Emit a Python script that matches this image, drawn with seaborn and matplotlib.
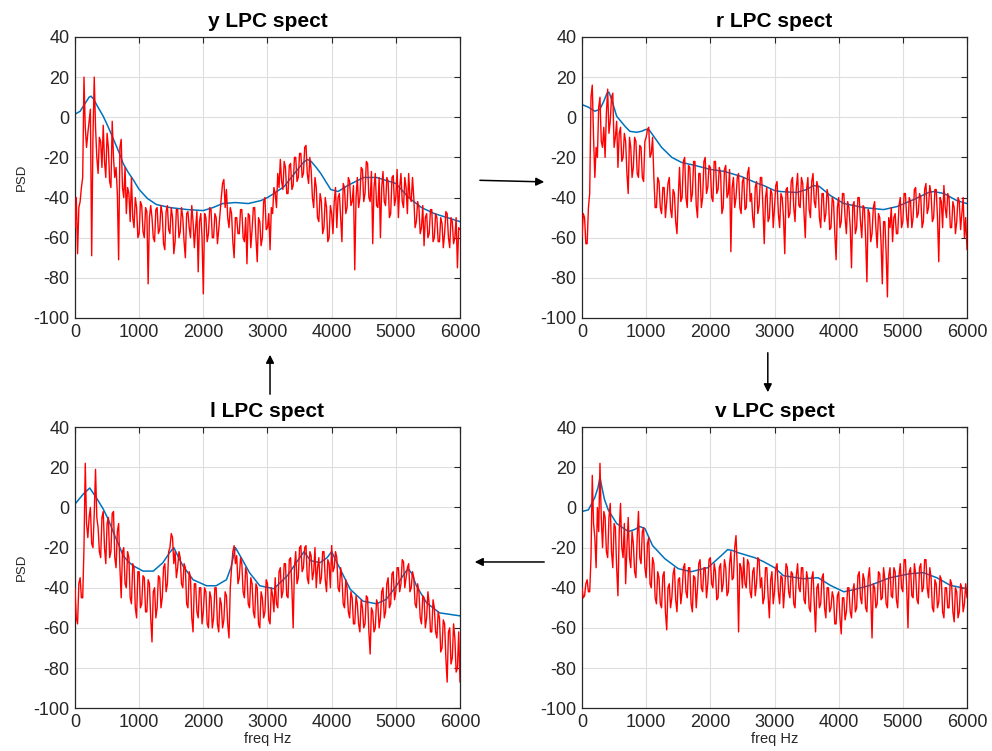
import numpy as np
import pandas as pd
import matplotlib
matplotlib.use("Agg")
import matplotlib.pyplot as plt
import seaborn as sns

# Periodogram frequency bins (Hz), 20 Hz spacing
freq_hz = np.arange(0, 6001, 20)

# Periodogram PSD (dB) per phoneme, one row per 400 Hz
psd_y = [
    -55, -40, -68, -45, -42, -35, -30, 20, -5, -15, -8, -2, 4, -69, -10, 20, -5, -20, -28, -10,
    -12, -25, -4, -22, -30, -8, -15, -32, -35, -2, -20, -30, -25, -38, -71, -15, -11, -35, -40, -25,
    -48, -35, -38, -52, -30, -50, -55, -40, -45, -60, -58, -42, -44, -57, -60, -45, -47, -83, -50, -44,
    -50, -60, -62, -46, -45, -58, -56, -44, -48, -63, -66, -47, -44, -56, -58, -45, -50, -68, -62, -46,
    -46, -60, -57, -45, -50, -62, -70, -48, -47, -55, -60, -44, -52, -65, -55, -47, -77, -52, -48, -60,
    -88, -48, -50, -62, -58, -45, -46, -60, -60, -48, -50, -63, -56, -48, -40, -33, -31, -45, -36, -50,
    -55, -45, -48, -62, -70, -50, -50, -58, -58, -46, -46, -60, -62, -50, -73, -48, -49, -65, -56, -45,
    -45, -60, -72, -50, -52, -64, -60, -42, -40, -56, -55, -48, -66, -45, -48, -35, -38, -45, -28, -35,
    -21, -32, -36, -22, -25, -38, -38, -24, -23, -36, -34, -20, -20, -32, -30, -18, -18, -30, -28, -15,
    -14, -28, -33, -20, -26, -40, -45, -30, -35, -50, -52, -38, -42, -58, -55, -40, -45, -62, -60, -44,
    -48, -58, -42, -35, -55, -40, -38, -50, -62, -33, -35, -48, -45, -30, -32, -44, -42, -34, -76, -40,
    -30, -45, -40, -25, -26, -42, -38, -22, -23, -40, -42, -27, -63, -35, -28, -44, -45, -30, -60, -35,
    -27, -42, -44, -30, -32, -50, -48, -30, -29, -44, -40, -26, -50, -35, -28, -42, -45, -30, -35, -48,
    -28, -40, -42, -30, -40, -55, -52, -42, -45, -58, -55, -44, -64, -50, -48, -60, -58, -46, -46, -62,
    -60, -48, -50, -62, -62, -50, -53, -65, -58, -47, -48, -60, -65, -50, -52, -63, -60, -50, -75, -55,
    -56,
]
psd_r = [
    -60, -48, -50, -63, -63, -45, -38, 10, 16, -10, -30, -15, -20, 5, 10, -12, -15, -5, -20, 2,
    14, -8, -2, 10, 12, -15, -10, -2, -25, -8, -5, -22, -20, -8, -12, -28, -38, -10, -15, -30,
    -25, -10, -12, -28, -30, -14, -15, -30, -32, -12, -10, -6, -5, -20, -18, -10, -30, -45, -45, -30,
    -32, -45, -48, -35, -35, -50, -42, -33, -30, -46, -50, -36, -38, -52, -58, -40, -25, -42, -40, -22,
    -20, -40, -45, -24, -25, -42, -38, -22, -22, -44, -50, -28, -28, -45, -40, -22, -20, -38, -35, -24,
    -25, -40, -42, -22, -22, -38, -36, -25, -28, -48, -45, -26, -24, -40, -38, -26, -67, -35, -30, -45,
    -40, -30, -28, -45, -48, -32, -30, -46, -45, -28, -25, -42, -38, -50, -55, -35, -32, -48, -44, -30,
    -30, -45, -63, -40, -35, -52, -50, -36, -38, -55, -45, -34, -32, -48, -55, -38, -40, -50, -68, -36,
    -35, -50, -48, -32, -30, -45, -52, -35, -28, -44, -45, -30, -33, -48, -60, -36, -30, -46, -50, -32,
    -28, -42, -45, -32, -35, -50, -55, -38, -38, -52, -48, -36, -40, -56, -55, -40, -42, -58, -71, -45,
    -40, -55, -52, -38, -38, -50, -58, -42, -45, -55, -75, -44, -42, -58, -55, -40, -40, -52, -60, -44,
    -45, -60, -82, -46, -48, -62, -58, -45, -42, -55, -65, -48, -50, -62, -83, -52, -52, -68, -89.5, -50,
    -55, -45, -62, -50, -48, -58, -58, -44, -40, -55, -52, -38, -38, -50, -55, -40, -42, -55, -50, -36,
    -35, -50, -48, -38, -40, -55, -52, -36, -33, -48, -45, -34, -38, -52, -50, -36, -36, -50, -72, -40,
    -42, -55, -34, -45, -50, -38, -40, -55, -55, -42, -45, -58, -52, -40, -42, -56, -48, -40, -60, -50,
    -66,
]
psd_l = [
    -40, -55, -58, -38, -35, -45, -45, -20, 22, -8, -15, -5, 0, -18, -20, -3, 19, -5, -10, -22,
    -25, -5, -2, -20, -28, -8, -5, -25, -22, -3, -2, -25, -30, -12, -8, -30, -45, -22, -20, -38,
    -40, -22, -25, -45, -48, -28, -30, -50, -55, -32, -32, -50, -48, -34, -35, -52, -52, -36, -38, -55,
    -67, -42, -40, -55, -50, -34, -35, -50, -45, -30, -28, -42, -38, -22, -20, -13, -15, -28, -22, -35,
    -30, -22, -25, -38, -40, -28, -30, -48, -50, -32, -35, -55, -62, -38, -38, -52, -55, -40, -40, -58,
    -52, -40, -42, -58, -60, -42, -45, -60, -55, -40, -40, -58, -62, -45, -48, -60, -56, -42, -44, -58,
    -65, -40, -30, -22, -19, -28, -24, -38, -35, -25, -28, -42, -45, -30, -33, -48, -50, -35, -38, -52,
    -55, -38, -40, -58, -60, -42, -45, -55, -52, -36, -38, -56, -58, -40, -44, -52, -35, -48, -50, -32,
    -30, -45, -42, -28, -28, -44, -45, -26, -25, -40, -60, -30, -22, -38, -35, -20, -19, -32, -30, -20,
    -19, -35, -38, -22, -24, -36, -32, -20, -40, -30, -25, -38, -35, -22, -22, -36, -42, -26, -28, -40,
    -19, -32, -30, -22, -25, -40, -42, -30, -35, -48, -50, -36, -40, -52, -55, -42, -45, -58, -58, -44,
    -48, -58, -62, -46, -50, -60, -58, -44, -45, -62, -73, -50, -52, -62, -60, -46, -48, -60, -55, -42,
    -40, -55, -52, -38, -35, -50, -48, -33, -32, -46, -42, -30, -30, -42, -38, -26, -27, -40, -35, -30,
    -28, -42, -40, -32, -35, -48, -50, -38, -42, -55, -58, -44, -45, -60, -55, -42, -48, -62, -62, -46,
    -50, -62, -65, -52, -55, -72, -70, -56, -58, -75, -87, -62, -60, -78, -75, -58, -65, -82, -80, -62,
    -87,
]
psd_v = [
    -40, -45, -44, -38, -36, -42, -42, -25, 16, -8, -15, -30, 0, -12, 22, -5, -20, -2, -5, -22,
    -25, -5, 2, -22, -30, -8, -10, -30, -44, -12, 2, -20, -25, -8, -38, -20, -5, -25, -30, -12,
    -18, -32, -35, -15, -2, -25, -28, -12, -10, -30, -35, -18, -15, -38, -40, -25, -28, -45, -48, -32,
    -35, -48, -50, -34, -32, -52, -61, -40, -38, -50, -45, -33, -30, -46, -52, -36, -35, -48, -42, -30,
    -28, -42, -45, -30, -30, -48, -52, -34, -35, -50, -40, -28, -26, -40, -42, -30, -30, -45, -38, -26,
    -25, -38, -40, -28, -32, -46, -45, -30, -28, -42, -38, -26, -30, -44, -42, -28, -22, -36, -35, -20,
    -14, -30, -62, -28, -30, -40, -25, -38, -40, -26, -28, -42, -45, -32, -30, -44, -38, -25, -26, -40,
    -35, -48, -45, -30, -30, -44, -55, -36, -32, -48, -42, -30, -28, -42, -48, -34, -35, -50, -40, -28,
    -30, -42, -45, -32, -33, -48, -50, -34, -28, -40, -42, -30, -30, -46, -48, -32, -36, -50, -52, -35,
    -32, -48, -62, -40, -38, -50, -48, -35, -33, -50, -55, -40, -40, -52, -50, -42, -45, -58, -58, -44,
    -42, -55, -63, -45, -45, -56, -52, -40, -40, -52, -55, -42, -38, -52, -50, -34, -32, -45, -48, -33,
    -36, -50, -52, -35, -30, -44, -65, -38, -40, -50, -48, -32, -33, -46, -45, -30, -36, -48, -50, -34,
    -30, -44, -45, -30, -32, -46, -50, -34, -28, -40, -42, -26, -26, -40, -60, -32, -30, -44, -45, -28,
    -33, -46, -48, -30, -28, -42, -40, -26, -26, -40, -45, -30, -35, -50, -52, -36, -38, -50, -47, -34,
    -36, -52, -55, -40, -40, -50, -50, -36, -38, -52, -57, -40, -42, -55, -52, -38, -40, -52, -48, -38,
    -45,
]

# LPC envelope (frequency Hz, dB) per phoneme
lpc_y_f = [0, 80, 160, 220, 250, 290, 350, 440, 520, 600, 680, 750, 830, 905,
           1000, 1130, 1270, 1480, 1750, 2000, 2150, 2300, 2500, 2700, 2900,
           3000, 3100, 3260, 3470, 3560, 3620, 3680, 3760, 3830, 3985, 4100,
           4250, 4500, 4700, 5000, 5200, 5400, 5600, 5800, 6000]
lpc_y_db = [1.5, 3, 7, 10, 10.5, 9, 5.5, 0.5, -5, -11, -17, -23, -27.5, -31,
            -36, -40.5, -43.5, -45, -46, -46.5, -45, -43, -42.5, -43, -41.5,
            -40, -38, -34.5, -26, -22.5, -21, -22, -25, -28, -36, -37,
            -34, -30, -30, -33, -40, -45, -48, -50, -52]

lpc_r_f = [0, 100, 200, 280, 340, 390, 420, 460, 540, 670, 745, 850, 925, 1000,
           1050, 1100, 1240, 1400, 1550, 1760, 2000, 2220, 2480, 2740, 2830,
           3000, 3090, 3350, 3500, 3610, 3700, 3870, 4080, 4390, 4700, 4910,
           5170, 5400, 5480, 5640, 5840, 6000]
lpc_r_db = [6.3, 5, 3, 4, 8, 12, 12.5, 9, 0.5, -4.5, -7, -7.5, -7, -6,
            -6.5, -8.7, -15, -20, -22.5, -24, -26, -27, -29.5, -33, -34,
            -36.5, -37, -37.5, -36, -34, -34.5, -39, -43, -45, -46, -44.5,
            -41, -37.5, -37, -38, -41.5, -43]

lpc_l_f = [0, 130, 230, 330, 440, 520, 600, 680, 750, 830, 905, 1060, 1220,
           1370, 1475, 1540, 1600, 1680, 1840, 2050, 2200, 2360, 2430, 2500,
           2590, 2720, 2880, 3100, 3310, 3470, 3570, 3670, 3820, 3930, 4000,
           4060, 4130, 4290, 4490, 4700, 4850, 5010, 5160, 5200, 5250, 5320,
           5480, 5680, 6000]
lpc_l_db = [1.7, 6.7, 9.7, 5, -0.8, -6, -12.5, -18.5, -24, -27, -29, -31.7,
            -31.7, -27.5, -22.5, -20, -24, -29, -36, -39, -39, -36, -30, -20,
            -25, -32.5, -39, -40.5, -34, -26.5, -22, -26.5, -27.5, -25, -22,
            -26, -30.5, -40.8, -46.7, -48, -45.8, -39, -31.7, -30.8, -33, -39,
            -47.5, -52.5, -54]

lpc_v_f = [0, 100, 200, 250, 280, 310, 350, 410, 540, 720, 820, 900, 980,
           1100, 1290, 1500, 1700, 1960, 2170, 2270, 2350, 2430, 2690, 2830,
           3000, 3140, 3450, 3680, 3870, 4080, 4230, 4490, 4800, 5110, 5320,
           5530, 5740, 6000]
lpc_v_db = [-2, -1.2, 5, 10, 15, 10, 4, -1.3, -8, -12, -11, -9.5, -10.5,
            -19, -25.5, -30.5, -32, -30, -24, -21, -21.5, -22.5, -25, -27,
            -30, -34, -35.5, -35, -38.8, -42, -41, -38.8, -35, -33, -32.5,
            -35, -38.8, -40.5]

titles = ["y LPC spect", "r LPC spect", "l LPC spect", "v LPC spect"]
x_ticks = [0, 1000, 2000, 3000, 4000, 5000, 6000]
y_ticks = [-100, -80, -60, -40, -20, 0, 20, 40]

sns.set_theme(style="whitegrid")
plt.rcParams["font.family"] = ["Liberation Sans", "DejaVu Sans"]

fig = plt.figure(figsize=(9.92, 7.51), dpi=100)
fig.patch.set_facecolor("white")

W, H = 0.3881, 0.3742
positions = {
    "y LPC spect": [0.0756, 0.5766, W, H],
    "r LPC spect": [0.5867, 0.5766, W, H],
    "l LPC spect": [0.0756, 0.0570, W, H],
    "v LPC spect": [0.5867, 0.0570, W, H],
}
spectra = {
    "y LPC spect": (psd_y, lpc_y_f, lpc_y_db),
    "r LPC spect": (psd_r, lpc_r_f, lpc_r_db),
    "l LPC spect": (psd_l, lpc_l_f, lpc_l_db),
    "v LPC spect": (psd_v, lpc_v_f, lpc_v_db),
}

for i, name in enumerate(titles):
    psd, env_f, env_db = spectra[name]
    ax = fig.add_axes(positions[name])
    ax.set_facecolor("white")
    sns.lineplot(x=env_f, y=env_db, ax=ax, color="#0072BD", linewidth=1.1,
                 zorder=2)
    sns.lineplot(x=freq_hz, y=psd, ax=ax, color="red", linewidth=1.0,
                 zorder=3)
    ax.set_xlim(0, 6000)
    ax.set_ylim(-100, 40)
    ax.set_xticks(x_ticks)
    ax.set_yticks(y_ticks)
    ax.set_xticklabels([str(t) for t in x_ticks])
    ax.set_yticklabels([str(t) for t in y_ticks])
    ax.grid(True, color="#dedede", linewidth=0.8)
    ax.tick_params(direction="in", top=True, right=True, length=4,
                   width=0.8, color="#262626", labelsize=13, pad=4,
                   labelcolor="#262626")
    for sp in ax.spines.values():
        sp.set_visible(True)
        sp.set_color("#262626")
        sp.set_linewidth(0.9)
    ax.set_title(name, fontsize=15, fontweight="bold", pad=7, color="black")
    if i % 2 == 0:
        ax.set_ylabel("PSD", fontsize=9.5, color="#262626", labelpad=4)
    else:
        ax.set_ylabel("")
    if i >= 2:
        ax.set_xlabel("freq Hz", fontsize=10.5, color="#262626", labelpad=1)
    else:
        ax.set_xlabel("")

# Arrows linking the panels (y -> r -> v -> l -> y)
arrow_kw = dict(arrowstyle="-|>", color="black", lw=1.1, mutation_scale=12)
links = [
    ((0.481, 0.760), (0.5514, 0.7577)),
    ((0.774, 0.534), (0.774, 0.474)),
    ((0.5514, 0.2517), (0.4758, 0.2517)),
    ((0.2722, 0.4714), (0.2722, 0.5313)),
]
for start, end in links:
    fig.add_artist(matplotlib.patches.FancyArrowPatch(
        start, end, transform=fig.transFigure, **arrow_kw))

fig.savefig("out.png", dpi=100, facecolor="white")
